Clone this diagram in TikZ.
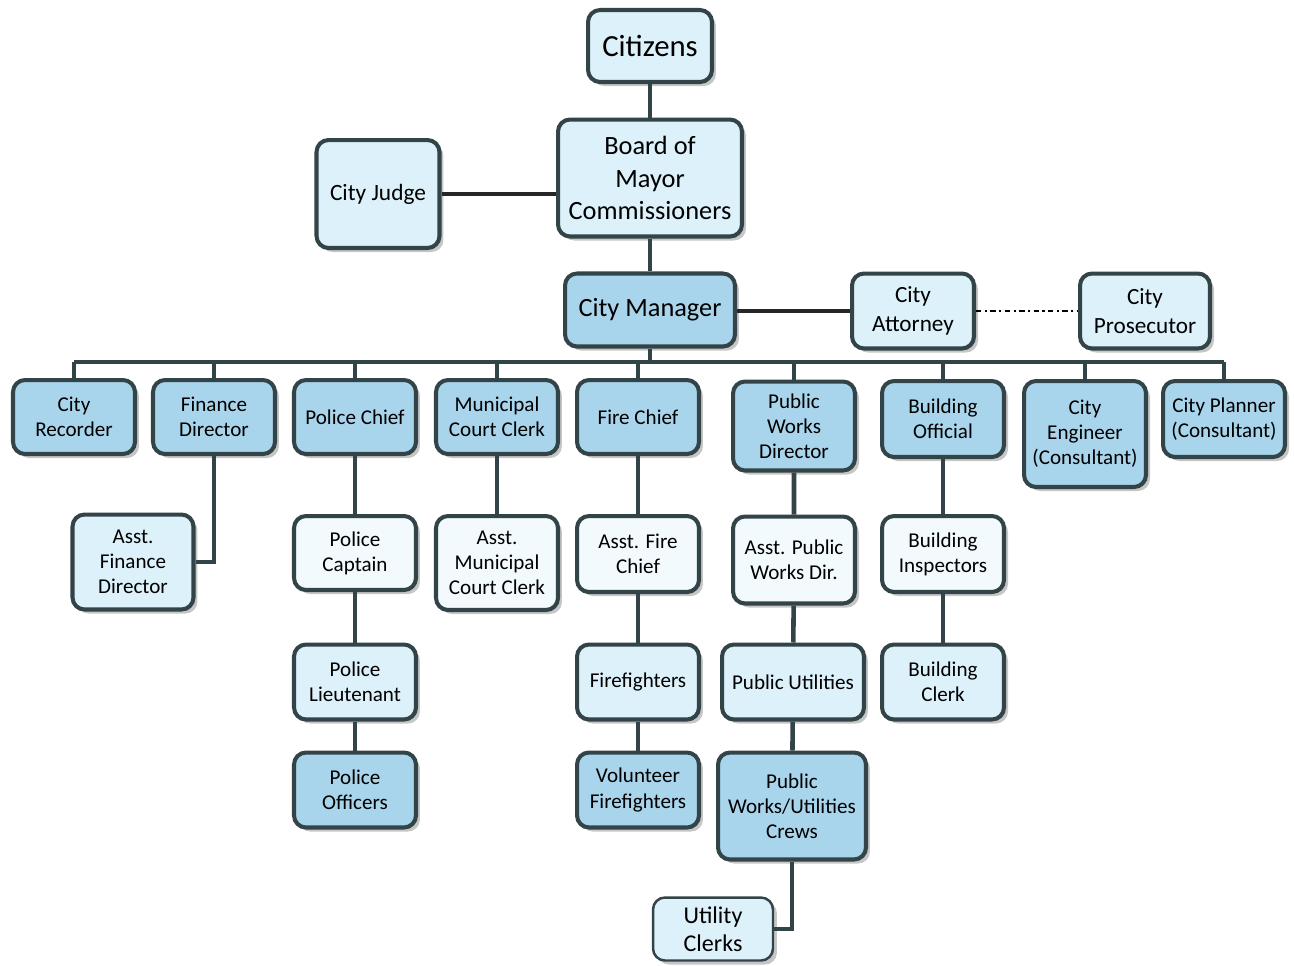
\documentclass[tikz,border=0pt]{standalone}
\usepackage{fontspec}
\setmainfont{Carlito}
\usetikzlibrary{shadows}
\definecolor{edgegray}{RGB}{50,68,71}
\definecolor{palebox}{RGB}{242,250,253}
\definecolor{lightbox}{RGB}{220,241,249}
\definecolor{midbox}{RGB}{169,213,236}
\tikzset{
  box/.style={draw=edgegray, line width=2.3pt, rounded corners=0.24cm, align=center,
    inner sep=1pt, minimum width=2.44cm, minimum height=1.48cm,
    font=\fontsize{12}{14.3}\selectfont,
    drop shadow={shadow xshift=0.08cm, shadow yshift=-0.08cm, fill=gray!45, opacity=1}},
  pale/.style={box, fill=palebox},
  light/.style={box, fill=lightbox},
  mid/.style={box, fill=midbox},
  link/.style={draw=edgegray, line width=2.6pt},
  side/.style={draw=black!85, line width=1.8pt}
}
\begin{document}
\begin{tikzpicture}[x=0.02cm, y=-0.02cm]
    \useasboundingbox (0,0) rectangle (1294,965);
    % top of the chart
    \node[light, minimum width=2.48cm, minimum height=1.44cm, font=\fontsize{17.5}{20}\selectfont] (cit) at (650,46) {Citizens};
    \node[light, minimum width=3.68cm, minimum height=2.34cm, font=\fontsize{15}{18.5}\selectfont] (board) at (650,178) {Board of\\Mayor\\Commissioners};
    \node[light, minimum width=2.46cm, minimum height=2.16cm, font=\fontsize{13.3}{16}\selectfont] (judge) at (378,194) {City Judge};
    \node[mid, minimum width=3.4cm, minimum height=1.46cm, font=\fontsize{15}{17}\selectfont] (mgr) at (650,310) {City Manager};
    \node[light, minimum height=1.5cm, font=\fontsize{13.2}{16.5}\selectfont] (att) at (913,311) {City\\Attorney};
    \node[light, minimum width=2.6cm, minimum height=1.5cm, font=\fontsize{13.2}{16.5}\selectfont] (pros) at (1145,311) {City\\Prosecutor};
    % department heads
    \node[mid] (rec) at (74,417) {City\\Recorder};
    \node[mid] (fin) at (214,417) {Finance\\Director};
    \node[mid] (pol) at (355,417) {Police Chief};
    \node[mid] (mcc) at (497,417) {Municipal\\Court Clerk};
    \node[mid] (fire) at (638,417) {Fire Chief};
    \node[mid, minimum height=1.78cm] (pwd) at (794,426) {Public\\Works\\Director};
    \node[mid, minimum height=1.52cm] (bo) at (943,419) {Building\\Official};
    \node[mid, minimum height=2.12cm] (eng) at (1085,434) {City\\Engineer\\(Consultant)};
    \node[mid, minimum height=1.52cm] (plan) at (1224,419) {City Planner\\(Consultant)};
    % staff
    \node[light, minimum width=2.42cm, minimum height=1.9cm] (afin) at (133,562) {Asst.\\Finance\\Director};
    \node[pale] (pcap) at (355,553) {Police\\Captain};
    \node[light, minimum height=1.5cm] (plt) at (355,682) {Police\\Lieutenant};
    \node[mid, minimum height=1.5cm] (poff) at (355,790) {Police\\Officers};
    \node[pale, minimum height=1.88cm] (amcc) at (497,563) {Asst.\\Municipal\\Court Clerk};
    \node[pale, minimum height=1.52cm] (afire) at (638,554) {Asst. Fire\\Chief};
    \node[light, minimum height=1.5cm] (ff) at (638,682) {Firefighters};
    \node[mid, minimum height=1.5cm] (vff) at (638,790) {Volunteer\\Firefighters};
    \node[pale, minimum height=1.74cm] (apwd) at (794,560) {Asst. Public\\Works Dir.};
    \node[light, minimum width=2.84cm, minimum height=1.5cm] (pu) at (793,682) {Public Utilities};
    \node[mid, minimum width=2.96cm, minimum height=2.14cm] (crew) at (792,806) {Public\\Works/Utilities\\Crews};
    \node[light, minimum width=2.4cm, minimum height=1.26cm, line width=1.4pt, font=\fontsize{13.7}{16}\selectfont] (uclk) at (713,929) {Utility\\Clerks};
    \node[pale, minimum height=1.52cm] (binsp) at (943,554) {Building\\Inspectors};
    \node[light, minimum height=1.5cm] (bclk) at (943,682) {Building\\Clerk};
    % connectors
    \coordinate (bus) at (650,362);
    \draw[link] (cit) -- (board);
    \draw[link] (board) -- (mgr);
    \draw[side] (judge.east) -- (judge.east -| board.west);
    \draw[side] (mgr.east |- att.west) -- (att.west);
    \draw[line width=1.2pt, dash dot] (att.east) -- (pros.west);
    \draw[link] (mgr.south) -- (bus);
    \draw[link] (rec.north |- bus) -- (plan.north |- bus);
    \foreach \n in {rec,fin,pol,mcc,fire,pwd,bo,eng,plan}
        \draw[link] (\n.north) -- (\n.north |- bus);
    \draw[link] (fin.south) |- (afin.east);
    \draw[link] (pol) -- (pcap) -- (plt) -- (poff);
    \draw[link] (mcc) -- (amcc);
    \draw[link] (fire) -- (afire) -- (ff) -- (vff);
    \draw[link] (pwd) -- (apwd) -- (pu) -- (crew);
    \draw[link] (crew.south) |- (uclk.east);
    \draw[link] (bo) -- (binsp) -- (bclk);
\end{tikzpicture}
\end{document}
